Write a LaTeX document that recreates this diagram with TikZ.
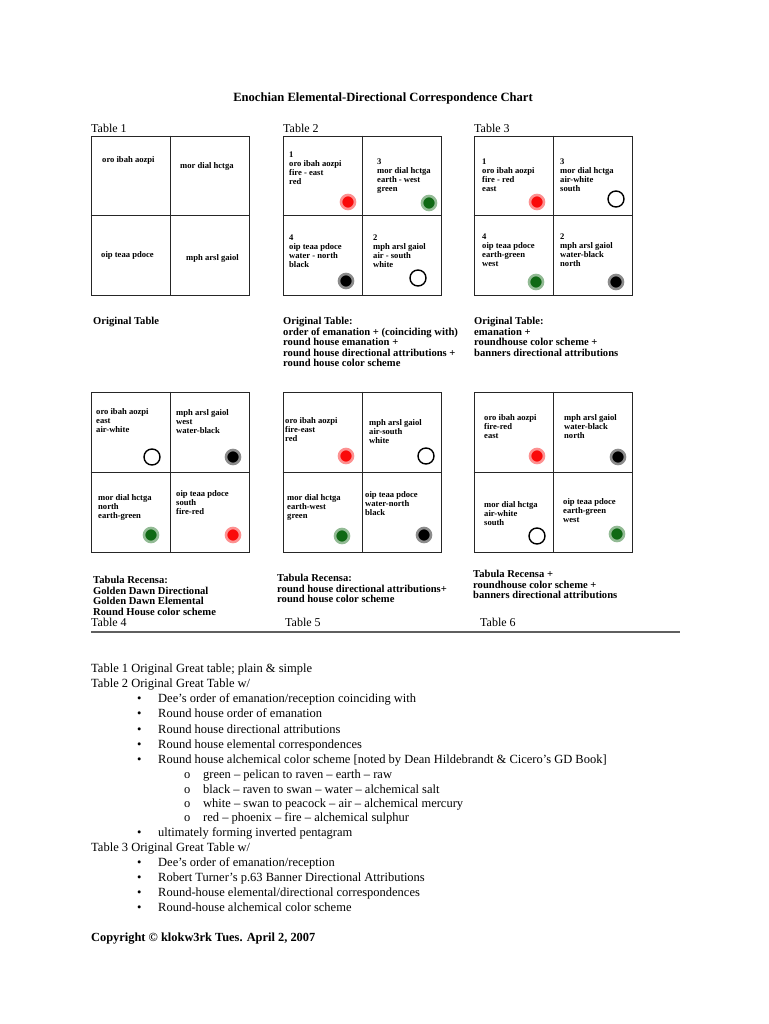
\documentclass[tikz,border=0pt]{standalone}
\usepackage{fontspec}
\setmainfont{Liberation Serif}
\usepackage{xcolor}
\usetikzlibrary{positioning}
\definecolor{dotred}{RGB}{250,10,10}
\definecolor{dotgreen}{RGB}{15,105,20}
\definecolor{rulegray}{RGB}{95,95,95}

\begin{document}
\begin{tikzpicture}[x=1pt, y=-1pt,
  tbox/.style={draw=black!85, line width=0.8pt, minimum width=158pt, minimum height=159pt, inner sep=0pt},
  midline/.style={draw=black!85, line width=0.8pt},
  cell/.style={anchor=north west, inner sep=0pt, align=left, font=\fontsize{8.6}{9}\selectfont\bfseries},
  captext/.style={anchor=north west, inner sep=0pt, align=left, font=\fontsize{10.6}{10.6}\selectfont\bfseries},
  tlabel/.style={anchor=base west, inner sep=0pt, font=\fontsize{12}{14}\selectfont},
  body/.style={anchor=base west, inner sep=0pt, font=\fontsize{12.5}{15}\selectfont},
  dot/.style={circle, inner sep=0pt, minimum size=14pt, fill=#1, draw=#1!45, line width=2.6pt},
  ring/.style={circle, inner sep=0pt, minimum size=16pt, draw=black, line width=1.4pt}]
  \useasboundingbox[fill=white] (0,0) rectangle (768,1024);
  % --- Title ---
  \node[anchor=base, inner sep=0pt, font=\fontsize{12.6}{14}\selectfont\bfseries] (title) at (383,102) {Enochian Elemental-Directional Correspondence Chart};
  % --- Row 1: Tables 1-3 ---
  \node[tlabel] (lab1) at (91,133) {Table 1};
  \node[tlabel] (lab2) at (283,133) {Table 2};
  \node[tlabel] (lab3) at (474,133) {Table 3};
  \node[tbox] (t1) at (170,215.5) {};
  \draw[midline] (t1.north) -- (t1.south);
  \draw[midline] (t1.west) -- (t1.east);
  \node[cell] (t1a) at (102,156) {oro ibah aozpi};
  \node[cell] (t1b) at (180,162) {mor dial hctga};
  \node[cell] (t1c) at (101,251) {oip teaa pdoce};
  \node[cell] (t1d) at (186,254) {mph arsl gaiol};
  \node[tbox] (t2) at (362,215.5) {};
  \draw[midline] (t2.north) -- (t2.south);
  \draw[midline] (t2.west) -- (t2.east);
  \node[cell] (t2a) at (289,152) {1\\oro ibah aozpi\\fire - east\\red};
  \node[dot=dotred] (d2a) at (348,202) {};
  \node[cell] (t2b) at (377,159) {3\\mor dial hctga\\earth - west\\green};
  \node[dot=dotgreen] (d2b) at (429,203) {};
  \node[cell] (t2c) at (289,235) {4\\oip teaa pdoce\\water - north\\black};
  \node[dot=black] (d2c) at (346,281) {};
  \node[cell] (t2d) at (373,235) {2\\mph arsl gaiol\\air - south\\white};
  \node[ring] (d2d) at (418,278) {};
  \node[tbox] (t3) at (553,215.5) {};
  \draw[midline] (t3.north) -- (t3.south);
  \draw[midline] (t3.west) -- (t3.east);
  \node[cell] (t3a) at (482,159) {1\\oro ibah aozpi\\fire - red\\east};
  \node[dot=dotred] (d3a) at (537,202) {};
  \node[cell] (t3b) at (560,159) {3\\mor dial hctga\\air-white\\south};
  \node[ring] (d3b) at (616,199) {};
  \node[cell] (t3c) at (482,234) {4\\oip teaa pdoce\\earth-green\\west};
  \node[dot=dotgreen] (d3c) at (536,282) {};
  \node[cell] (t3d) at (560,234) {2\\mph arsl gaiol\\water-black\\north};
  \node[dot=black] (d3d) at (616,282) {};
  % --- Row 1 captions ---
  \node[captext] (cap1) at (93,317) {Original Table};
  \node[captext] (cap2) at (283,317) {Original Table:\\order of emanation + (coinciding with)\\round house emanation +\\round house directional attributions +\\round house color scheme};
  \node[captext] (cap3) at (474,317) {Original Table:\\emanation +\\roundhouse color scheme +\\banners directional attributions};
  % --- Row 2: Tables 4-6 ---
  \node[tbox, minimum height=160pt] (t4) at (170,472) {};
  \draw[midline] (t4.north) -- (t4.south);
  \draw[midline] (t4.west) -- (t4.east);
  \node[cell] (t4a) at (96,408) {oro ibah aozpi\\east\\air-white};
  \node[ring] (d4a) at (152,457) {};
  \node[cell] (t4b) at (176,409) {mph arsl gaiol\\west\\water-black};
  \node[dot=black] (d4b) at (233,457) {};
  \node[cell] (t4c) at (98,494) {mor dial hctga\\north\\earth-green};
  \node[dot=dotgreen] (d4c) at (151,535) {};
  \node[cell] (t4d) at (176,490) {oip teaa pdoce\\south\\fire-red};
  \node[dot=dotred] (d4d) at (233,535) {};
  \node[tbox, minimum height=160pt] (t5) at (362,472) {};
  \draw[midline] (t5.north) -- (t5.south);
  \draw[midline] (t5.west) -- (t5.east);
  \node[cell] (t5a) at (285,417) {oro ibah aozpi\\fire-east\\red};
  \node[dot=dotred] (d5a) at (346,456) {};
  \node[cell] (t5b) at (369,419) {mph arsl gaiol\\air-south\\white};
  \node[ring] (d5b) at (426,456) {};
  \node[cell] (t5c) at (287,494) {mor dial hctga\\earth-west\\green};
  \node[dot=dotgreen] (d5c) at (342,536) {};
  \node[cell] (t5d) at (365,491) {oip teaa pdoce\\water-north\\black};
  \node[dot=black] (d5d) at (424,535) {};
  \node[tbox, minimum height=160pt] (t6) at (553,472) {};
  \draw[midline] (t6.north) -- (t6.south);
  \draw[midline] (t6.west) -- (t6.east);
  \node[cell] (t6a) at (484,414) {oro ibah aozpi\\fire-red\\east};
  \node[dot=dotred] (d6a) at (537,456) {};
  \node[cell] (t6b) at (564,414) {mph arsl gaiol\\water-black\\north};
  \node[dot=black] (d6b) at (618,457) {};
  \node[cell] (t6c) at (484,501) {mor dial hctga\\air-white\\south};
  \node[ring] (d6c) at (537,536) {};
  \node[cell] (t6d) at (563,498) {oip teaa pdoce\\earth-green\\west};
  \node[dot=dotgreen] (d6d) at (617,534) {};
  % --- Row 2 captions ---
  \node[captext] (cap4) at (93,576) {Tabula Recensa:\\Golden Dawn Directional\\Golden Dawn Elemental\\Round House color scheme};
  \node[captext] (cap5) at (277,574) {Tabula Recensa:\\round house directional attributions+\\round house color scheme};
  \node[captext] (cap6) at (473,570) {Tabula Recensa +\\roundhouse color scheme +\\banners directional attributions};
  \node[tlabel] (lab4) at (91,626) {Table 4};
  \node[tlabel] (lab5) at (285,626) {Table 5};
  \node[tlabel] (lab6) at (480,626) {Table 6};
  \coordinate (rulel) at (91,632);
  \coordinate (ruler) at (680,632);
  \draw[rulegray, line width=2pt] (rulel) -- (ruler);
  % --- Notes ---
  \node[body] (ln1) at (91,672) {Table 1 Original Great table; plain \& simple};
  \node[body] (ln2) at (91,687) {Table 2 Original Great Table w/};
  \node[body] (bu1) at (137,702) {\textbullet};
  \node[body] (ln3) at (158,702) {Dee’s order of emanation/reception coinciding with};
  \node[body] (bu2) at (137,717) {\textbullet};
  \node[body] (ln4) at (158,717) {Round house order of emanation};
  \node[body] (bu3) at (137,733) {\textbullet};
  \node[body] (ln5) at (158,733) {Round house directional attributions};
  \node[body] (bu4) at (137,748) {\textbullet};
  \node[body] (ln6) at (158,748) {Round house elemental correspondences};
  \node[body] (bu5) at (137,763) {\textbullet};
  \node[body] (ln7) at (158,763) {Round house alchemical color scheme [noted by Dean Hildebrandt \& Cicero’s GD Book]};
  \node[body] (sb1) at (184,778) {o};
  \node[body] (ln8) at (203,778) {green -- pelican to raven -- earth -- raw};
  \node[body] (sb2) at (184,793) {o};
  \node[body] (ln9) at (203,793) {black -- raven to swan -- water -- alchemical salt};
  \node[body] (sb3) at (184,807) {o};
  \node[body] (ln10) at (203,807) {white -- swan to peacock -- air -- alchemical mercury};
  \node[body] (sb4) at (184,821) {o};
  \node[body] (ln11) at (203,821) {red -- phoenix -- fire -- alchemical sulphur};
  \node[body] (bu6) at (137,836) {\textbullet};
  \node[body] (ln12) at (158,836) {ultimately forming inverted pentagram};
  \node[body] (ln13) at (91,851) {Table 3 Original Great Table w/};
  \node[body] (bu7) at (137,866) {\textbullet};
  \node[body] (ln14) at (158,866) {Dee’s order of emanation/reception};
  \node[body] (bu8) at (137,881) {\textbullet};
  \node[body] (ln15) at (158,881) {Robert Turner’s p.63 Banner Directional Attributions};
  \node[body] (bu9) at (137,896) {\textbullet};
  \node[body] (ln16) at (158,896) {Round-house elemental/directional correspondences};
  \node[body] (bu10) at (137,911) {\textbullet};
  \node[body] (ln17) at (158,911) {Round-house alchemical color scheme};
  \node[body, font=\fontsize{12.4}{14}\selectfont\bfseries] (copy) at (91,941) {Copyright © klokw3rk Tues. April 2, 2007};
\end{tikzpicture}
\end{document}
